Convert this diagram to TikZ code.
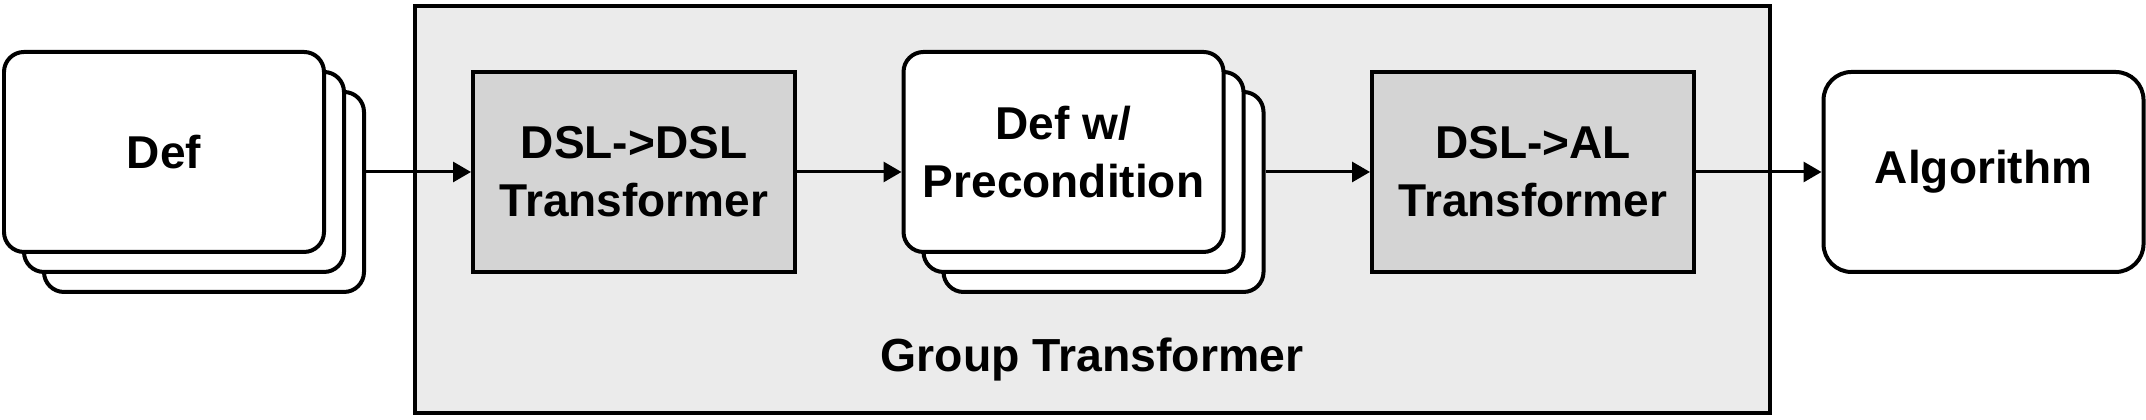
\documentclass[tikz,border=0pt]{standalone}
\usepackage{fontspec}
\setmainfont{Liberation Sans}
\usetikzlibrary{positioning, arrows.meta}

\definecolor{groupgray}{HTML}{EBEBEB}
\definecolor{stagegray}{HTML}{D4D4D4}
\newcommand{\stagefont}{\fontsize{13.1}{16.5}\selectfont\bfseries}

\tikzset{
  card/.style={draw, line width=0.04cm, fill=white, rounded corners=0.2cm,
    minimum width=3.2cm, minimum height=2cm, align=center, font=\stagefont},
  stage/.style={draw, line width=0.04cm, fill=stagegray,
    minimum width=3.22cm, minimum height=2cm, align=center, font=\stagefont},
  flow/.style={-{Triangle[length=1.8mm, width=2mm]}, line width=0.03cm},
}

\begin{document}
\begin{tikzpicture}
\useasboundingbox (0,0) rectangle (21.46,4.2);

% group frame
\node[draw, line width=0.04cm, fill=groupgray, minimum width=13.55cm, minimum height=4.07cm] (group) at (10.925,2.105) {};
\node[anchor=base, font=\fontsize{13.2}{15}\selectfont\bfseries] (grouplabel) at (10.92,0.48) {Group Transformer};

% stacked inputs
\foreach \k in {2,1}
  \node[card] (def\k) at ({1.64+0.2*\k},{2.68-0.2*\k}) {};
\node[card] (def0) at (1.64,2.68) {Def};

\foreach \k in {2,1}
  \node[card] (pre\k) at ({10.635+0.2*\k},{2.68-0.2*\k}) {};
\node[card] (pre0) at (10.635,2.68) {Def w/\\Precondition};

% transformers
\node[stage] (dsl) at (6.34,2.48) {DSL->DSL\\Transformer};
\node[stage] (dslal) at (15.33,2.48) {DSL->AL\\Transformer};
\node[card, rounded corners=0.28cm] (algo) at (19.835,2.48) {Algorithm};

% flow
\draw[flow] (def2.east |- dsl.west) -- (dsl.west);
\draw[flow] (dsl.east) -- (pre0.west |- dsl.east);
\draw[flow] (pre2.east |- dslal.west) -- (dslal.west);
\draw[flow] (dslal.east) -- (algo.west);
\end{tikzpicture}
\end{document}
